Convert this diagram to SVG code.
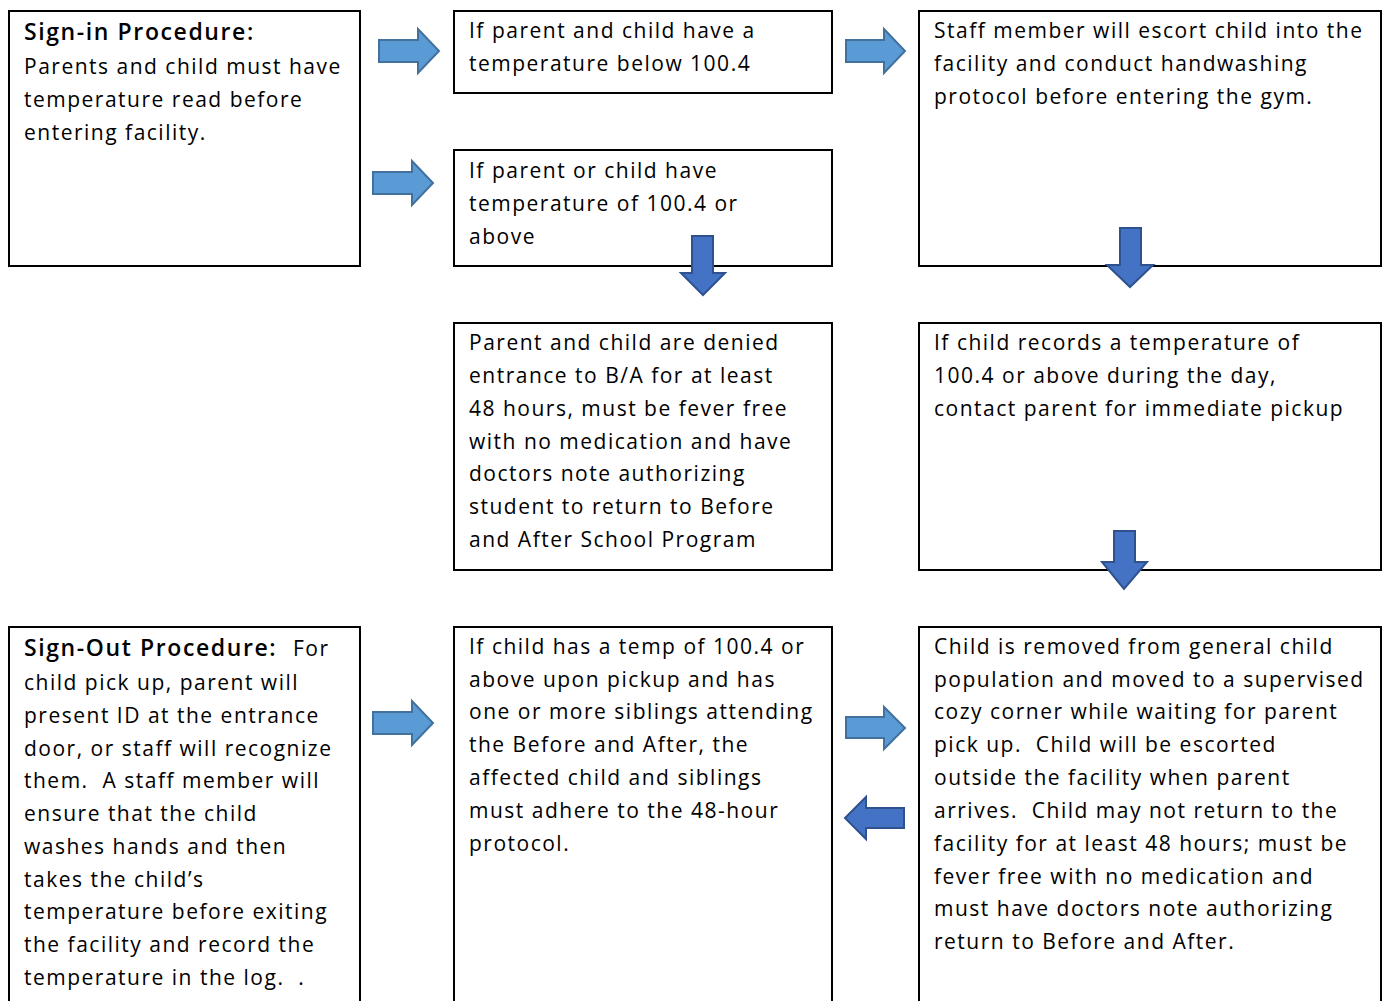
<svg xmlns="http://www.w3.org/2000/svg" width="1385" height="1001" viewBox="0 0 1385 1001">
<style>
.box{fill:#fff;stroke:#000;stroke-width:2}
text{font-family:"Open Sans","DejaVu Sans",sans-serif;font-size:21px;fill:#000;letter-spacing:1.5px;white-space:pre}
.h{font-weight:600;font-size:23px;letter-spacing:1.6px}
.ra{fill:#5B9BD5;stroke:#41719C;stroke-width:2}
.da{fill:#4472C4;stroke:#2F528F;stroke-width:2}
</style>
<rect width="1385" height="1001" fill="#fff"/>
<g id="n1"><rect class="box" x="9" y="11" width="351" height="255"/>
<text><tspan x="24" y="40" class="h">Sign-in Procedure:</tspan><tspan x="24" y="74">Parents and child must have</tspan><tspan x="24" y="107">temperature read before</tspan><tspan x="24" y="140">entering facility.</tspan></text></g>
<g id="n2"><rect class="box" x="454" y="11" width="378" height="82"/>
<text><tspan x="469" y="38">If parent and child have a</tspan><tspan x="469" y="71">temperature below 100.4</tspan></text></g>
<g id="n3"><rect class="box" x="454" y="150" width="378" height="116"/>
<text><tspan x="469" y="178">If parent or child have</tspan><tspan x="469" y="211">temperature of 100.4 or</tspan><tspan x="469" y="244">above</tspan></text></g>
<g id="n4"><rect class="box" x="919" y="11" width="462" height="255"/>
<text><tspan x="934" y="38">Staff member will escort child into the</tspan><tspan x="934" y="71">facility and conduct handwashing</tspan><tspan x="934" y="104">protocol before entering the gym.</tspan></text></g>
<g id="n5"><rect class="box" x="454" y="323" width="378" height="247"/>
<text><tspan x="469" y="350">Parent and child are denied</tspan><tspan x="469" y="383">entrance to B/A for at least</tspan><tspan x="469" y="416">48 hours, must be fever free</tspan><tspan x="469" y="449">with no medication and have</tspan><tspan x="469" y="481">doctors note authorizing</tspan><tspan x="469" y="514">student to return to Before</tspan><tspan x="469" y="547">and After School Program</tspan></text></g>
<g id="n6"><rect class="box" x="919" y="323" width="462" height="247"/>
<text><tspan x="934" y="350">If child records a temperature of</tspan><tspan x="934" y="383">100.4 or above during the day,</tspan><tspan x="934" y="416">contact parent for immediate pickup</tspan></text></g>
<g id="n7"><rect class="box" x="9" y="627" width="351" height="390"/>
<text><tspan x="24" y="656" class="h">Sign-Out Procedure:</tspan><tspan x="293">For</tspan><tspan x="24" y="690">child pick up, parent will</tspan><tspan x="24" y="723">present ID at the entrance</tspan><tspan x="24" y="756">door, or staff will recognize</tspan><tspan x="24" y="788">them.  A staff member will</tspan><tspan x="24" y="821">ensure that the child</tspan><tspan x="24" y="854">washes hands and then</tspan><tspan x="24" y="887">takes the child’s</tspan><tspan x="24" y="919">temperature before exiting</tspan><tspan x="24" y="952">the facility and record the</tspan><tspan x="24" y="985">temperature in the log.  .</tspan></text></g>
<g id="n8"><rect class="box" x="454" y="627" width="378" height="390"/>
<text><tspan x="469" y="654">If child has a temp of 100.4 or</tspan><tspan x="469" y="687">above upon pickup and has</tspan><tspan x="469" y="719">one or more siblings attending</tspan><tspan x="469" y="752">the Before and After, the</tspan><tspan x="469" y="785">affected child and siblings</tspan><tspan x="469" y="818">must adhere to the 48-hour</tspan><tspan x="469" y="851">protocol.</tspan></text></g>
<g id="n9"><rect class="box" x="919" y="627" width="462" height="390"/>
<text><tspan x="934" y="654">Child is removed from general child</tspan><tspan x="934" y="687">population and moved to a supervised</tspan><tspan x="934" y="719">cozy corner while waiting for parent</tspan><tspan x="934" y="752">pick up.  Child will be escorted</tspan><tspan x="934" y="785">outside the facility when parent</tspan><tspan x="934" y="818">arrives.  Child may not return to the</tspan><tspan x="934" y="851">facility for at least 48 hours; must be</tspan><tspan x="934" y="884">fever free with no medication and</tspan><tspan x="934" y="916">must have doctors note authorizing</tspan><tspan x="934" y="949">return to Before and After.</tspan></text></g>
<g id="connectors">
<path class="ra" d="M379,40 H418 V29 L439,51 L418,73 V62 H379 Z"/>
<path class="ra" d="M373,172 H412 V161 L433,183 L412,205 V194 H373 Z"/>
<path class="ra" d="M846,40 H884 V29 L905,51 L884,73 V62 H846 Z"/>
<path class="ra" d="M373,712 H412 V701 L433,723 L412,745 V734 H373 Z"/>
<path class="ra" d="M846,717 H884 V707 L905,728 L884,749 V738 H846 Z"/>
<path class="da" d="M904,808 H866 V797 L845,818 L866,839 V828 H904 Z"/>
<path class="da" d="M692,236 H713 V273 H725 L703,295 L681,273 H692 Z"/>
<path class="da" d="M1120,228 H1141 V265 H1153 L1130,287 L1107,265 H1120 Z"/>
<path class="da" d="M1114,531 H1135 V562 H1147 L1124,589 L1102,562 H1114 Z"/>
</g>
</svg>
